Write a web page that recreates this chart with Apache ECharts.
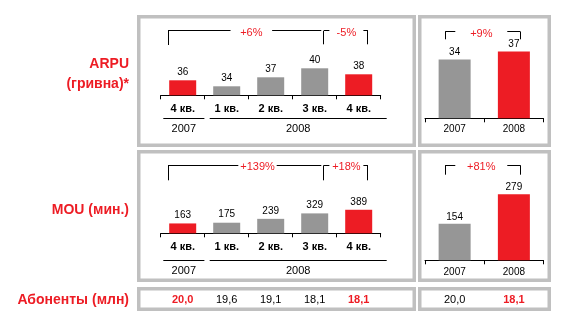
<!DOCTYPE html>
<html>
<head>
<meta charset="utf-8">
<script src="https://cdn.jsdelivr.net/npm/echarts@6/dist/echarts.min.js"></script>
<style>
  html, body { margin: 0; padding: 0; background: #fff; }
  #c { width: 572px; height: 322px; }
</style>
</head>
<body>
<div id="c"></div>
<script>
// Quarterly and yearly operating figures
const quarters = ['4 кв.', '1 кв.', '2 кв.', '3 кв.', '4 кв.'];
const quarterYears = ['2007', '2008'];
const years = ['2007', '2008'];

const arpuQuarter = [36, 34, 37, 40, 38];
const arpuYear = [34, 37];
const mouQuarter = [163, 175, 239, 329, 389];
const mouYear = [154, 279];
const subsQuarter = [20.0, 19.6, 19.1, 18.1, 18.1];
const subsYear = [20.0, 18.1];

const highlightQuarter = [true, false, false, false, true];
const highlightYear = [false, true];

const arpuQuarterChange = ['+6%', '-5%'];
const arpuYearChange = ['+9%'];
const mouQuarterChange = ['+139%', '+18%'];
const mouYearChange = ['+81%'];

const rowTitles = { arpu: ['ARPU', '(гривна)*'], mou: 'MOU (мин.)', subs: 'Абоненты (млн)' };

const RED = '#ed1c24', GRAY = '#969696', INK = '#000', FRAME = '#c0c0c0';
const FONT = '"Liberation Sans", Arial, Helvetica, sans-serif';

const chart = echarts.init(document.getElementById('c'));

function catAxis(grid, data, fontSize, bold, margin, show) {
  return {
    type: 'category', gridIndex: grid, data: data, boundaryGap: true, show: show !== false,
    axisLine: { show: true, lineStyle: { color: INK, width: 1 } },
    axisTick: { show: true, length: 4, lineStyle: { color: INK, width: 1 } },
    axisLabel: { show: true, interval: 0, margin: margin, fontSize: fontSize,
      fontWeight: bold ? 'bold' : 'normal', color: INK, fontFamily: FONT },
    splitLine: { show: false }
  };
}
function valAxis(grid, min, max) {
  return { type: 'value', gridIndex: grid, min: min, max: max, show: false, splitLine: { show: false } };
}
function barSeries(i, data, hl, width, dist) {
  return {
    type: 'bar', xAxisIndex: i, yAxisIndex: i, data: data, barWidth: width, silent: true,
    itemStyle: { color: p => hl[p.dataIndex] ? RED : GRAY },
    label: { show: true, position: 'top', distance: dist, fontSize: 10, color: INK, fontFamily: FONT }
  };
}
// subscriber counts are shown as text only, one value per category
function subsSeries(i, data, hl) {
  return {
    type: 'scatter', xAxisIndex: i, yAxisIndex: i, symbolSize: 1, silent: true,
    itemStyle: { color: 'transparent', opacity: 1 },
    data: data.map((v, k) => ({
      value: [k, 0.5],
      label: { color: hl[k] ? RED : INK, fontWeight: hl[k] ? 'bold' : 'normal' }
    })),
    label: { show: true, position: 'inside', fontSize: 11, fontFamily: FONT, color: INK,
      textBorderWidth: 0, textShadowBlur: 0, opacity: 1,
      formatter: p => data[p.dataIndex].toFixed(1).replace('.', ',') }
  };
}

const option = {
  animation: false,
  grid: [
    { left: 160.7, top: 38.3, width: 220, height: 57, outerBoundsMode: 'none' },
    { left: 425, top: 43.6, width: 118.5, height: 74.7, outerBoundsMode: 'none' },
    { left: 160.7, top: 197, width: 220, height: 36.3, outerBoundsMode: 'none' },
    { left: 425, top: 189.2, width: 118.5, height: 71.1, outerBoundsMode: 'none' },
    { left: 160.7, top: 289, width: 220, height: 22, outerBoundsMode: 'none' },
    { left: 425, top: 289, width: 118.5, height: 22, outerBoundsMode: 'none' }
  ],
  xAxis: [
    catAxis(0, quarters, 11, true, 8.5),
    catAxis(1, years, 10, false, 5.5),
    catAxis(2, quarters, 11, true, 8),
    catAxis(3, years, 10, false, 6.5),
    catAxis(4, quarters, 11, false, 0, false),
    catAxis(5, years, 11, false, 0, false)
  ],
  yAxis: [
    valAxis(0, 31, 50),
    valAxis(1, 12, 40),
    valAxis(2, 0, 600),
    valAxis(3, 0, 300),
    valAxis(4, 0, 1),
    valAxis(5, 0, 1)
  ],
  series: [
    barSeries(0, arpuQuarter, highlightQuarter, 27, 3),
    barSeries(1, arpuYear, highlightYear, 32, 2),
    barSeries(2, mouQuarter, highlightQuarter, 27, 3),
    barSeries(3, mouYear, highlightYear, 32, 2),
    subsSeries(4, subsQuarter, highlightQuarter),
    subsSeries(5, subsYear, highlightYear)
  ]
};
chart.setOption(option);

// ---- frames, row titles, year captions and change brackets ----
const cols = { left: { x: 137, w: 279 }, right: { x: 418, w: 133 } };
const rows = { arpu: { y: 15, h: 132 }, mou: { y: 150, h: 132 }, subs: { y: 287, h: 24 } };
const BW = 3.5;

const g = [];
Object.keys(rows).forEach(r => Object.keys(cols).forEach(c => {
  const R = rows[r], C = cols[c];
  g.push({ type: 'rect', z: 1, silent: true,
    shape: { x: C.x + BW / 2, y: R.y + BW / 2, width: C.w - BW, height: R.h - BW },
    style: { fill: 'none', stroke: FRAME, lineWidth: BW } });
}));

function title(text, y) {
  g.push({ type: 'text', z: 5, silent: true, x: 129, y: y,
    style: { text: text, fill: RED, font: 'bold 14px ' + FONT, align: 'right', verticalAlign: 'middle' } });
}
title(rowTitles.arpu[0], 64.5);
title(rowTitles.arpu[1], 84);
title(rowTitles.mou, 210);
title(rowTitles.subs, 300);

// category position (fractional index) to pixel x on a given x axis
function catX(axis, t) {
  const p0 = chart.convertToPixel({ xAxisIndex: axis }, 0);
  const p1 = chart.convertToPixel({ xAxisIndex: axis }, 1);
  return p0 + t * (p1 - p0);
}
function crisp(v) { return Math.round(v - 0.5) + 0.5; }
function hline(x1, x2, y) {
  g.push({ type: 'line', z: 5, silent: true, shape: { x1: x1, y1: crisp(y), x2: x2, y2: crisp(y) },
    style: { stroke: INK, lineWidth: 1 } });
}
function vline(x, y1, y2) {
  g.push({ type: 'line', z: 5, silent: true, shape: { x1: crisp(x), y1: y1, x2: crisp(x), y2: y2 },
    style: { stroke: INK, lineWidth: 1 } });
}

// year captions under the quarterly axes
function yearRow(axis, lineY, textY) {
  const a = catX(axis, -0.5), b = catX(axis, 0.5), e = catX(axis, 4.5);
  const spans = [[a + 2.6, b - 0.3], [b + 5, e + 6]];
  spans.forEach((s, k) => {
    hline(s[0], s[1], lineY);
    g.push({ type: 'text', z: 5, silent: true, x: (s[0] + s[1]) / 2, y: textY,
      style: { text: quarterYears[k], fill: INK, font: '11px ' + FONT, align: 'center', verticalAlign: 'middle' } });
  });
}
yearRow(0, 118.3, 128.5);
yearRow(2, 260.3, 270.5);

// change bracket: legs at category positions, label breaking the top line
function bracket(axis, b) {
  const x1 = catX(axis, b.from), x2 = catX(axis, b.to), tx = catX(axis, b.at);
  if (b.legL) vline(x1, b.y, b.y + b.drop);
  if (b.legR) vline(x2, b.y, b.y + b.drop);
  hline(x1, tx - b.half, b.y);
  hline(tx + b.half, x2, b.y);
  g.push({ type: 'text', z: 5, silent: true, x: tx, y: b.y + 2,
    style: { text: b.text, fill: RED, font: '11px ' + FONT, align: 'center', verticalAlign: 'middle' } });
}
bracket(0, { from: -0.334, to: 3.15, at: 1.56, half: 20.8, y: 30.7, drop: 14.3, legL: true, legR: false, text: arpuQuarterChange[0] });
bracket(0, { from: 3.21, to: 4.21, at: 3.72, half: 17, y: 30.7, drop: 13.6, legL: true, legR: true, text: arpuQuarterChange[1] });
bracket(1, { from: -0.16, to: 1.11, at: 0.45, half: 26, y: 31.7, drop: 7.6, legL: true, legR: true, text: arpuYearChange[0] });
bracket(2, { from: -0.334, to: 3.15, at: 1.7, half: 19.2, y: 165.3, drop: 15, legL: true, legR: false, text: mouQuarterChange[0] });
bracket(2, { from: 3.21, to: 4.21, at: 3.72, half: 17, y: 165.3, drop: 15, legL: true, legR: true, text: mouQuarterChange[1] });
bracket(3, { from: -0.16, to: 1.11, at: 0.45, half: 26, y: 165.3, drop: 9.4, legL: true, legR: true, text: mouYearChange[0] });

chart.setOption({ graphic: { elements: g } });
</script>
</body>
</html>
